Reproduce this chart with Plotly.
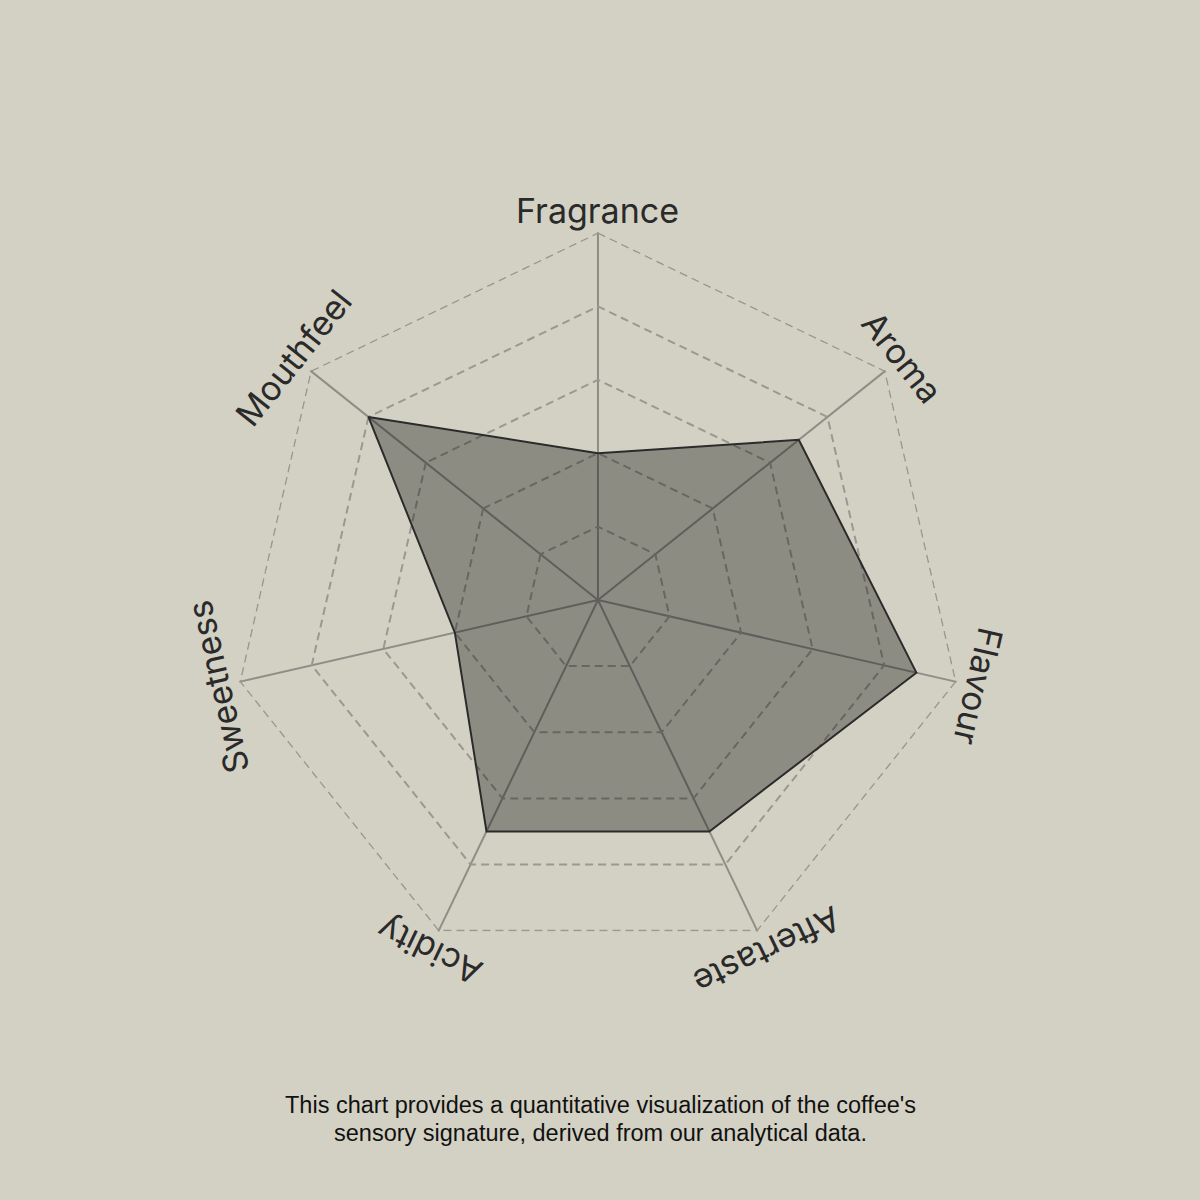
import math
import plotly.graph_objects as go

# sensory profile (0-5 scale)
attributes = ["Fragrance", "Aroma", "Flavour", "Aftertaste", "Acidity", "Sweetness", "Mouthfeel"]
scores = [2.0, 3.5, 4.45, 3.5, 3.5, 2.0, 4.0]
ring_values = [1, 2, 3, 4, 5]
caption_lines = [
    "This chart provides a quantitative visualization of the coffee's",
    "sensory signature, derived from our analytical data.",
]

bg = "#d3d1c4"
grid_col = "#9b988f"
cx, cy, rad = 0.4983, 0.5, 0.3058
rmax = 5.012  # a hair past the outer ring so it is not clipped
drad = rad * rmax / ring_values[-1]

fig = go.Figure()

# outer dashed ring (plotly skips the gridline at the range end)
outer = ring_values[-1]
fig.add_trace(go.Scatterpolar(
    r=[outer] * (len(attributes) + 1),
    theta=attributes + [attributes[0]],
    mode="lines",
    line=dict(color=grid_col, width=1.5, dash="8px,5px"),
    hoverinfo="skip",
))

fig.add_trace(go.Scatterpolar(
    r=scores + [scores[0]],
    theta=attributes + [attributes[0]],
    mode="lines",
    fill="toself",
    fillcolor="rgba(0,0,0,0.33)",
    line=dict(color="#2b2b2b", width=2),
    hoverinfo="skip",
))

fig.update_layout(
    width=1200, height=1200,
    paper_bgcolor=bg, plot_bgcolor=bg,
    margin=dict(l=0, r=0, t=0, b=0),
    showlegend=False,
    polar=dict(
        bgcolor=bg,
        domain=dict(x=[cx - drad, cx + drad], y=[cy - drad, cy + drad]),
        gridshape="linear",
        radialaxis=dict(
            range=[0, rmax], tickvals=ring_values[:-1], showticklabels=False,
            ticks="", showline=False,
            gridcolor=grid_col, griddash="8px,5px", gridwidth=1.5,
        ),
        angularaxis=dict(
            direction="clockwise", rotation=90,
            showticklabels=False, ticks="", showline=False,
            gridcolor="#8f8d86", gridwidth=1.5,
        ),
    ),
)

# tangential axis labels
n = len(attributes)
for i, name in enumerate(attributes):
    ang = 360.0 * i / n
    a = math.radians(ang)
    lr = rad * 1.062
    fig.add_annotation(
        x=cx + lr * math.sin(a), y=cy + lr * math.cos(a),
        xref="paper", yref="paper", text=name, showarrow=False,
        textangle=ang, xanchor="center", yanchor="middle",
        font=dict(family="Inter", size=34, color="#2a2a2a"),
    )

for k, line in enumerate(caption_lines):
    fig.add_annotation(
        x=0.5, y=1 - (1105 + 28 * k) / 1200, xref="paper", yref="paper",
        text=line, showarrow=False, xanchor="center", yanchor="middle",
        font=dict(family="Liberation Sans", size=23.5, color="#111111"),
    )

fig.write_html("out.html", config={"displayModeBar": False},
               post_script="document.body.style.margin='0';")
